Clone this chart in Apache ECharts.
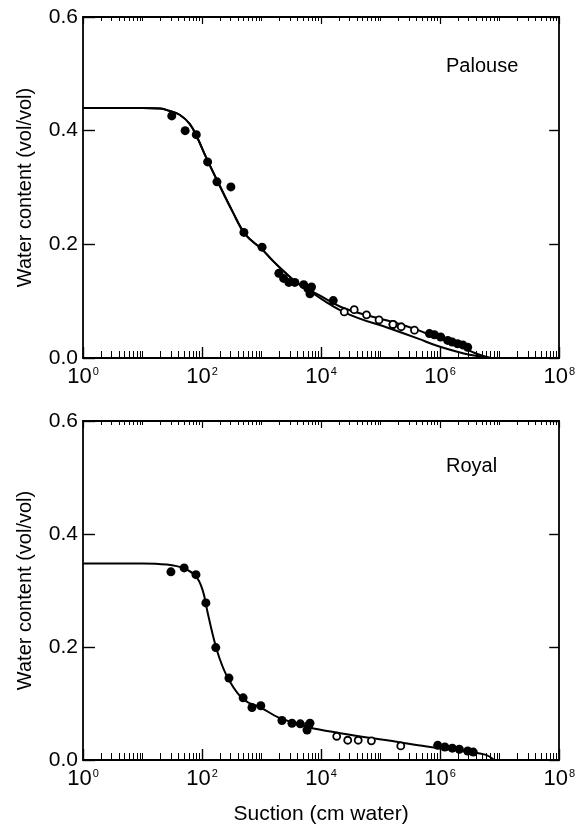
<!DOCTYPE html>
<html><head><meta charset="utf-8">
<script src="https://cdn.jsdelivr.net/npm/echarts@6/dist/echarts.min.js"></script>
<style>html,body{margin:0;padding:0;background:#fff}#c{width:578px;height:836px}</style>
</head><body><div id="c"></div>
<script>
// ---------- tick labels ----------
const xLabelValues = [1, 1e2, 1e4, 1e6, 1e8];
const yTickValues = [0, 0.2, 0.4, 0.6];
const decades = [1, 10, 100, 1e3, 1e4, 1e5, 1e6, 1e7];
const minorMultipliers = [2, 3, 4, 5, 6, 7, 8, 9];

// ---------- Palouse (top) ----------
const palouseDotsX = [31, 52, 80, 124, 178, 305, 505, 1020, 1950, 2350, 2870, 3620, 5100, 6000, 6500, 6900, 16000, 162000, 660000, 800000, 1020000, 1340000, 1600000, 1960000, 2400000, 2900000];
const palouseDotsY = [0.426, 0.400, 0.393, 0.345, 0.310, 0.301, 0.221, 0.195, 0.149, 0.140, 0.133, 0.133, 0.129, 0.122, 0.113, 0.125, 0.101, 0.059, 0.043, 0.041, 0.037, 0.031, 0.028, 0.025, 0.023, 0.019];
const palouseOpenX = [24500, 36000, 58000, 94000, 161000, 222000, 370000];
const palouseOpenY = [0.081, 0.085, 0.076, 0.067, 0.059, 0.055, 0.049];
const palouseFitAX = [1, 10, 20, 28, 42, 62, 83, 117, 182, 324, 537, 1000, 1580, 2510, 3980, 9120, 25100, 151000, 427000, 912000, 2000000, 4000000, 7000000];
const palouseFitAY = [0.440, 0.440, 0.439, 0.435, 0.428, 0.412, 0.388, 0.353, 0.311, 0.258, 0.217, 0.192, 0.170, 0.150, 0.132, 0.111, 0.087, 0.064, 0.049, 0.035, 0.022, 0.008, 0.000];
const palouseFitBX = [1, 10, 20, 28, 42, 62, 83, 117, 182, 324, 537, 1000, 1580, 2510, 3980, 6300, 25100, 151000, 427000, 912000, 2500000, 7000000];
const palouseFitBY = [0.440, 0.440, 0.439, 0.435, 0.428, 0.412, 0.388, 0.353, 0.311, 0.258, 0.217, 0.192, 0.170, 0.150, 0.132, 0.118, 0.080, 0.051, 0.034, 0.021, 0.008, 0.000];

// ---------- Royal (bottom) ----------
const royalDotsX = [30, 50, 79, 116, 170, 283, 490, 690, 970, 2200, 3240, 4470, 5800, 6150, 6500, 910000, 1200000, 1600000, 2100000, 2900000, 3600000];
const royalDotsY = [0.333, 0.340, 0.328, 0.278, 0.199, 0.145, 0.110, 0.093, 0.096, 0.070, 0.065, 0.064, 0.053, 0.061, 0.065, 0.026, 0.023, 0.021, 0.019, 0.016, 0.014];
const royalOpenX = [18300, 28000, 42000, 70000, 218000];
const royalOpenY = [0.042, 0.035, 0.035, 0.034, 0.025];
const royalFitX = [1, 10, 25, 50, 79, 102, 123, 151, 195, 282, 500, 1000, 1950, 6150, 22400, 79400, 195000, 427000, 1600000, 5500000, 8100000];
const royalFitY = [0.348, 0.348, 0.346, 0.339, 0.325, 0.301, 0.263, 0.222, 0.181, 0.142, 0.107, 0.092, 0.075, 0.058, 0.047, 0.038, 0.032, 0.026, 0.018, 0.010, 0.000];

const zip = (xs, ys) => xs.map((x, i) => [x, ys[i]]);
const minorTicks = [];
decades.forEach(d => minorMultipliers.forEach(m => minorTicks.push(d * m)));
decades.forEach(d => { if (xLabelValues.indexOf(d) < 0) minorTicks.push(d); });

const FONT = 'Liberation Sans';
const black = '#000';

function xAxes(grid, withLabels) {
  const base = {gridIndex: grid, type: 'log', logBase: 10, min: 1, max: 1e8, splitLine: {show: false}};
  return [
    Object.assign({}, base, {
      position: 'bottom',
      axisLine: {show: true, lineStyle: {color: black, width: 1.8}},
      axisTick: {show: true, inside: true, length: 11, customValues: xLabelValues, lineStyle: {color: black, width: 1.4}},
      axisLabel: {show: withLabels, customValues: xLabelValues, margin: 8,
        formatter: v => '{b|10}{s|' + Math.round(Math.log10(v)) + '}',
        rich: {b: {fontFamily: FONT, fontSize: 22, color: black},
               s: {fontFamily: FONT, fontSize: 11, color: black, verticalAlign: 'top', padding: [0, 0, 0, 1]}}}
    }),
    Object.assign({}, base, {
      position: 'bottom',
      axisLine: {show: false},
      axisTick: {show: true, inside: true, length: 7, customValues: minorTicks, lineStyle: {color: black, width: 1}},
      axisLabel: {show: false}
    }),
    Object.assign({}, base, {
      position: 'top',
      axisLine: {show: true, lineStyle: {color: black, width: 1.8}},
      axisTick: {show: true, inside: true, length: 7, customValues: xLabelValues, lineStyle: {color: black, width: 1.2}},
      axisLabel: {show: false}
    }),
    Object.assign({}, base, {
      position: 'top',
      axisLine: {show: false},
      axisTick: {show: true, inside: true, length: 4, customValues: minorTicks, lineStyle: {color: black, width: 1}},
      axisLabel: {show: false}
    })
  ];
}

function yAxes(grid) {
  const base = {gridIndex: grid, type: 'value', min: 0, max: 0.6, interval: 0.2, splitLine: {show: false}};
  return [
    Object.assign({}, base, {
      position: 'left',
      name: 'Water content (vol/vol)', nameLocation: 'middle', nameGap: 48,
      nameTextStyle: {fontFamily: FONT, fontSize: 20, color: black},
      axisLine: {show: true, lineStyle: {color: black, width: 1.8}},
      axisTick: {show: true, inside: true, length: 12, lineStyle: {color: black, width: 1.4}},
      axisLabel: {fontFamily: FONT, fontSize: 21, color: black, margin: 5, formatter: v => v.toFixed(1)}
    }),
    Object.assign({}, base, {
      position: 'right',
      axisLine: {show: true, lineStyle: {color: black, width: 1.8}},
      axisTick: {show: true, inside: true, length: 10, lineStyle: {color: black, width: 1.4}},
      axisLabel: {show: false}
    })
  ];
}

const xs = xAxes(0, true).concat(xAxes(1, true));
xs[4].name = 'Suction (cm water)';
xs[4].nameLocation = 'middle';
xs[4].nameGap = 44;
xs[4].nameTextStyle = {fontFamily: FONT, fontSize: 21, color: black};

function fit(data, xi, yi) {
  return {type: 'line', xAxisIndex: xi, yAxisIndex: yi, data: data, smooth: 0.4, symbol: 'none',
          lineStyle: {color: black, width: 2}, z: 2, silent: true};
}
function dots(data, xi, yi) {
  return {type: 'scatter', xAxisIndex: xi, yAxisIndex: yi, data: data, symbol: 'circle', symbolSize: 9,
          itemStyle: {color: black, opacity: 1}, z: 4};
}
function opens(data, xi, yi) {
  return {type: 'scatter', xAxisIndex: xi, yAxisIndex: yi, data: data, symbol: 'circle', symbolSize: 7,
          itemStyle: {color: '#fff', borderColor: black, borderWidth: 1.8, opacity: 1}, z: 5};
}

const chart = echarts.init(document.getElementById('c'), null, {renderer: 'canvas'});
chart.setOption({
  backgroundColor: '#fff',
  animation: false,
  grid: [
    {left: 83, width: 479, top: 17, height: 341},
    {left: 83, width: 479, top: 421, height: 339}
  ],
  xAxis: xs,
  yAxis: yAxes(0).concat(yAxes(1)),
  graphic: [
    {type: 'text', left: 446, top: 56, style: {text: 'Palouse', fontFamily: FONT, fontSize: 20, fill: black}},
    {type: 'text', left: 446, top: 456, style: {text: 'Royal', fontFamily: FONT, fontSize: 20, fill: black}}
  ],
  series: [
    fit(zip(palouseFitAX, palouseFitAY), 0, 0),
    fit(zip(palouseFitBX, palouseFitBY), 0, 0),
    dots(zip(palouseDotsX, palouseDotsY), 0, 0),
    opens(zip(palouseOpenX, palouseOpenY), 0, 0),
    fit(zip(royalFitX, royalFitY), 4, 2),
    dots(zip(royalDotsX, royalDotsY), 4, 2),
    opens(zip(royalOpenX, royalOpenY), 4, 2)
  ]
});
</script>
</body></html>
